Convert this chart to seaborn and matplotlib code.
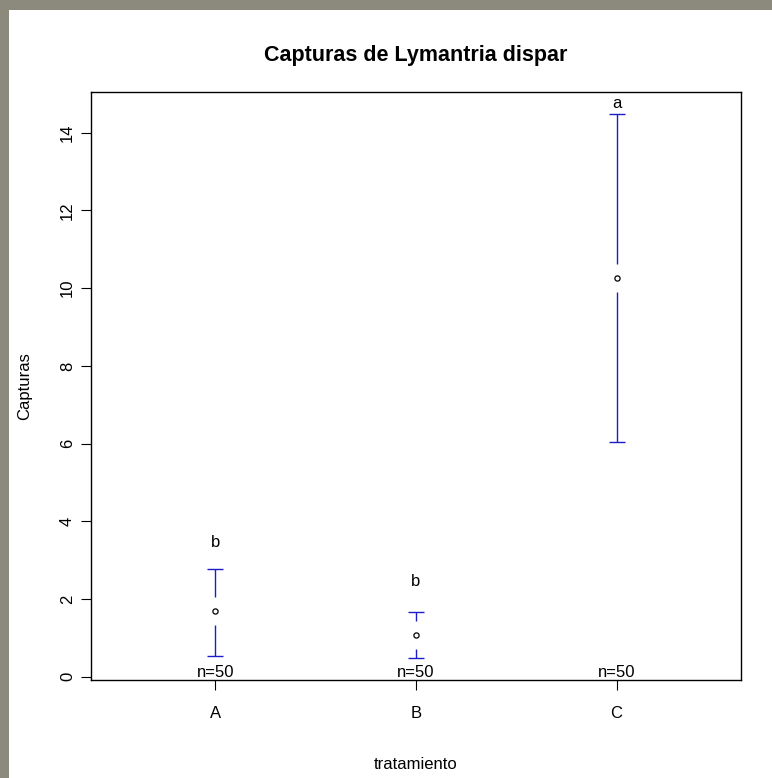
import numpy as np
import pandas as pd
import seaborn as sns
import matplotlib.pyplot as plt
from matplotlib.patches import Rectangle

# datos
tratamiento = ["A", "B", "C"]
media = [1.69, 1.07, 10.27]
ic_inf = [0.54, 0.49, 6.04]
ic_sup = [2.76, 1.67, 14.48]
n_obs = [50, 50, 50]
letras = ["b", "b", "a"]
letras_y = [3.45, 2.45, 14.75]
y_ticks = [0, 2, 4, 6, 8, 10, 12, 14]

sns.set_theme(style="white")
plt.rcParams['font.family'] = ['Liberation Sans', 'DejaVu Sans']
plt.rcParams['text.color'] = 'black'

df = pd.DataFrame({"tratamiento": tratamiento, "media": media,
                   "ic_inf": ic_inf, "ic_sup": ic_sup})

fig = plt.figure(figsize=(7.72, 7.78), dpi=100)
fig.patch.set_facecolor("white")
# borde gris (textura de fondo) arriba y a la izquierda
gris = "#8b8a7c"
fig.add_artist(Rectangle((0, 1 - 10 / 778), 1, 10 / 778, transform=fig.transFigure,
                         facecolor=gris, edgecolor="none"))
fig.add_artist(Rectangle((0, 0), 9 / 772, 1, transform=fig.transFigure,
                         facecolor=gris, edgecolor="none"))

ax = fig.add_axes([91 / 772, 1 - 680 / 778, 650 / 772, 588 / 778])
ax.set_facecolor("white")

xlim = (-0.62, 2.62)
ylim = (-0.085, 15.05)

# hueco alrededor de la media y ancho del remate, en unidades de datos
gap = 14 * (ylim[1] - ylim[0]) / 588
cap = 8 * (xlim[1] - xlim[0]) / 650
azul = "#1c1cc8"

pos = np.arange(len(tratamiento))
for i, row in df.iterrows():
    ax.vlines(i, row.ic_inf, row.media - gap, color=azul, lw=1.0)
    ax.vlines(i, row.media + gap, row.ic_sup, color=azul, lw=1.0)
    ax.hlines([row.ic_inf, row.ic_sup], i - cap, i + cap, color=azul, lw=1.0)

sns.scatterplot(data=df, x="tratamiento", y="media", ax=ax, s=14,
                facecolor="white", edgecolor="black", linewidth=0.9, zorder=3)
ax.set_xlim(xlim)
ax.set_ylim(ylim)

for i in pos:
    ax.text(i, 0.0, "n=%d" % n_obs[i], ha="center", va="baseline", fontsize=12)
    ax.text(i, letras_y[i], letras[i], ha="center", va="center", fontsize=12)

ax.set_xticks(pos)
ax.set_xticklabels(tratamiento)
ax.set_yticks(y_ticks)
ax.set_yticklabels([str(v) for v in y_ticks], rotation=90, va="center")
ax.tick_params(axis="both", direction="out", length=7.5, width=0.8, color="black",
               labelsize=12, labelcolor="black", bottom=True, left=True)
ax.tick_params(axis="x", pad=11)
ax.tick_params(axis="y", pad=4)
for s in ax.spines.values():
    s.set_color("black")
    s.set_linewidth(1)

ax.set_xlabel("tratamiento", fontsize=12, labelpad=26, color="black")
ax.set_ylabel("Capturas", fontsize=12, labelpad=20, color="black")
ax.set_title("Capturas de Lymantria dispar", fontsize=15.5, fontweight="bold",
             pad=22, color="black")

fig.savefig("out.png", dpi=100, facecolor=fig.get_facecolor())
